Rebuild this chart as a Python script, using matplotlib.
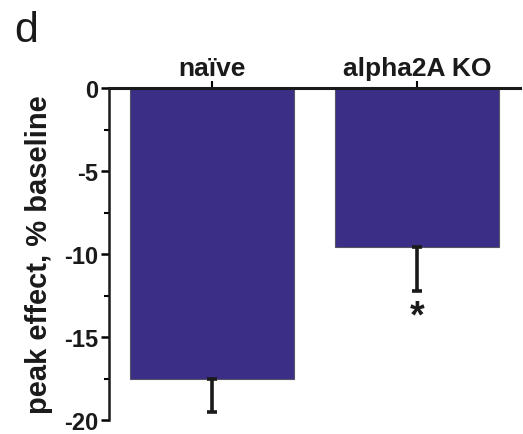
import numpy as np
import matplotlib
matplotlib.use("Agg")
import matplotlib.pyplot as plt
from matplotlib.ticker import MultipleLocator

plt.rcParams['font.family'] = ['Liberation Sans', 'DejaVu Sans']

# data
groups = ['naïve', 'alpha2A KO']
peak = [-17.5, -9.6]
sem = [2.0, 2.6]
sig = ['', '*']
yticks = [0, -5, -10, -15, -20]

bar_color = '#3b2e86'

fig = plt.figure(figsize=(5.23, 4.35), dpi=100)
ax = fig.add_axes([0.2084, 1 - 421 / 435, 0.994 - 0.2084, 332 / 435])

x = np.arange(len(groups))
ax.bar(x, peak, width=0.8, color=bar_color, edgecolor='#555566', linewidth=0.8, zorder=2)
# one-sided error bars (downwards)
ax.errorbar(x, peak, yerr=[sem, [0] * len(sem)], fmt='none', ecolor='#1a1a1a',
            elinewidth=2.6, capsize=3.5, capthick=2.6, zorder=3, clip_on=False)

for xi, p, s, m in zip(x, peak, sem, sig):
    if m:
        ax.text(xi, p - s - 0.5, m, ha='center', va='top', fontsize=27,
                fontweight='bold', color='#1a1a1a')

ax.set_xlim(-0.5, 1.5)
ax.set_ylim(-20, 0)
ax.set_yticks(yticks)
ax.set_yticklabels([str(t) for t in yticks])
ax.yaxis.set_minor_locator(MultipleLocator(2.5))

ax.xaxis.tick_top()
ax.set_xticks(x)
ax.set_xticklabels(groups)

for lab in ax.get_yticklabels():
    lab.set_fontweight('bold')
    lab.set_fontsize(17)
    lab.set_color('#1a1a1a')
for lab in ax.get_xticklabels():
    lab.set_fontweight('bold')
    lab.set_fontsize(19)
    lab.set_color('#1a1a1a')

ax.tick_params(axis='y', which='major', direction='out', length=6, width=1.8, pad=2)
ax.tick_params(axis='y', which='minor', direction='out', length=3.5, width=1.5)
ax.tick_params(axis='x', which='major', direction='out', length=5, width=1.5, pad=1)

ax.spines['right'].set_visible(False)
ax.spines['bottom'].set_visible(False)
ax.spines['left'].set_linewidth(1.8)
ax.spines['top'].set_linewidth(2.2)
for sp in ('left', 'top'):
    ax.spines[sp].set_color('#1a1a1a')

ax.set_ylabel('peak effect, % baseline', fontsize=21, fontweight='bold',
              color='#1a1a1a', labelpad=8)

fig.text(0.027, 0.975, 'd', fontsize=31, va='top', ha='left', color='#1a1a1a')

fig.savefig('out.png', dpi=100)
